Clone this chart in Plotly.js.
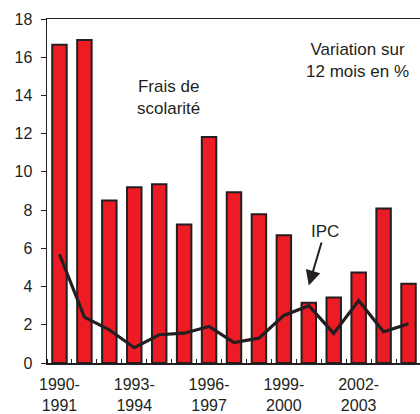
<!DOCTYPE html>
<html>
<head>
<meta charset="utf-8">
<script src="https://cdn.plot.ly/plotly-3.0.1.min.js"></script>
<style>
  html, body { margin: 0; padding: 0; background: #ffffff; overflow: hidden; }
  #chart { width: 420px; height: 414px; }
</style>
</head>
<body>
<div id="chart"></div>
<script>
// Academic years (categories)
const categories = ["1990-1991", "1991-1992", "1992-1993", "1993-1994", "1994-1995",
  "1995-1996", "1996-1997", "1997-1998", "1998-1999", "1999-2000",
  "2000-2001", "2001-2002", "2002-2003", "2003-2004", "2004-2005"];
// Frais de scolarité, variation sur 12 mois en %
const fraisScolarite = [16.65, 16.9, 8.5, 9.2, 9.35, 7.25, 11.82, 8.93, 7.78, 6.68,
  3.15, 3.43, 4.73, 8.08, 4.15];
// IPC, variation sur 12 mois en %
const ipc = [5.69, 2.4, 1.74, 0.8, 1.48, 1.56, 1.91, 1.07, 1.3, 2.49,
  3.0, 1.55, 3.27, 1.63, 2.05];
// Labelled ticks
const tickCategories = ["1990-1991", "1993-1994", "1996-1997", "1999-2000", "2002-2003"];
const tickLabels = ["1990-<br>1991", "1993-<br>1994", "1996-<br>1997", "1999-<br>2000", "2002-<br>2003"];
const yTicks = [0, 2, 4, 6, 8, 10, 12, 14, 16, 18];

const xIdx = categories.map((c, i) => i);
const tickIdx = tickCategories.map(c => categories.indexOf(c));

const ink = "#231f20";
const fontFam = "Liberation Sans, Arial, sans-serif";

const traces = [
  {
    type: "bar",
    x: xIdx,
    y: fraisScolarite,
    width: 0.58,
    marker: { color: "#ed1c24", line: { color: ink, width: 2 } },
    hoverinfo: "skip"
  },
  {
    type: "scatter",
    mode: "lines",
    x: xIdx,
    y: ipc,
    line: { color: ink, width: 3.2 },
    hoverinfo: "skip"
  }
];

const layout = {
  width: 420,
  height: 414,
  margin: { l: 47, r: 0, t: 19, b: 51, pad: 0 },
  paper_bgcolor: "#ffffff",
  plot_bgcolor: "#ffffff",
  showlegend: false,
  font: { family: fontFam, size: 16, color: ink },
  xaxis: {
    range: [-0.5, 14.46],
    showgrid: false,
    zeroline: false,
    showline: true,
    linecolor: ink,
    linewidth: 1.5,
    mirror: true,
    tickmode: "array",
    tickvals: tickIdx,
    ticktext: tickLabels,
    ticks: "",
    ticklabelstandoff: 6,
    tickfont: { family: fontFam, size: 16, color: ink },
    minor: { tick0: 0.5, dtick: 1, ticks: "inside", ticklen: 4, tickwidth: 1, tickcolor: ink, showgrid: false }
  },
  yaxis: {
    range: [0, 18],
    showgrid: false,
    zeroline: false,
    showline: true,
    linecolor: ink,
    linewidth: 1.5,
    tickmode: "array",
    tickvals: yTicks,
    ticks: "outside",
    ticklen: 5,
    tickwidth: 1,
    tickcolor: ink,
    ticklabelstandoff: 5,
    tickfont: { family: fontFam, size: 16, color: ink }
  },
  annotations: [
    {
      xref: "paper", yref: "paper",
      x: (357 - 47) / 373, y: (362.5 - 60) / 343.5,
      text: "Variation sur<br>12 mois en %",
      showarrow: false,
      font: { family: fontFam, size: 17, color: ink },
      align: "center",
      xanchor: "center", yanchor: "middle"
    },
    {
      xref: "paper", yref: "paper",
      x: (168 - 47) / 373, y: (362.5 - 97) / 343.5,
      text: "Frais de<br>scolarité",
      showarrow: false,
      font: { family: fontFam, size: 17, color: ink },
      align: "center",
      xanchor: "center", yanchor: "middle"
    },
    {
      xref: "x", yref: "y",
      x: categories.indexOf("2000-2001"), y: 4.06,
      text: "IPC",
      showarrow: true,
      arrowhead: 2,
      arrowsize: 1.5,
      arrowwidth: 2,
      arrowcolor: ink,
      ax: 16, ay: -54,
      standoff: 0,
      font: { family: fontFam, size: 17, color: ink }
    }
  ]
};

Plotly.newPlot("chart", traces, layout, { staticPlot: true, displayModeBar: false });
</script>
</body>
</html>
